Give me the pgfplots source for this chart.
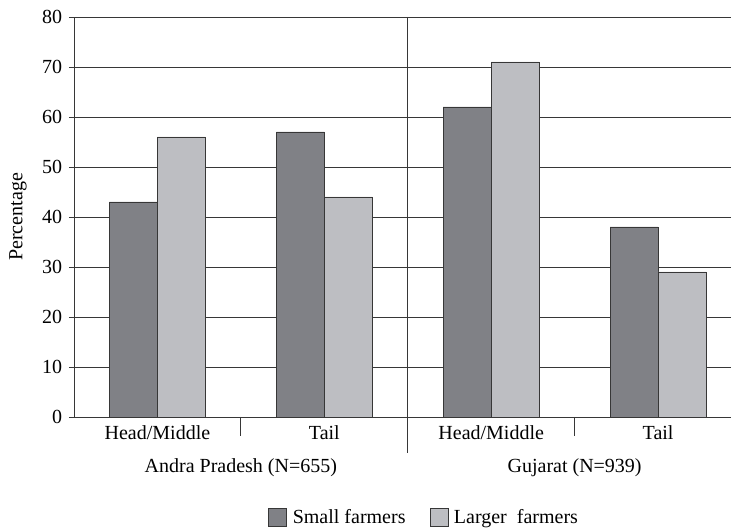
\documentclass[border=0pt]{standalone}
\usepackage{pgfplots}
\pgfplotsset{compat=1.18}
\usepackage{fontspec}
\setmainfont{Liberation Serif}
\definecolor{darkbar}{RGB}{128,129,134}
\definecolor{lightbar}{RGB}{189,190,194}
\definecolor{linec}{RGB}{55,55,55}
\pgfplotsset{mybox/.style={legend image code/.code={\draw[##1] (0pt,-9pt) rectangle (18pt,9pt); \path[draw=none,fill=none] (0pt,0pt) rectangle (22pt,1pt);}}}
\begin{document}
\fontsize{20}{23}\selectfont
\begin{tikzpicture}
\useasboundingbox (-74pt,-112pt) rectangle (657pt,417pt);
\begin{axis}[
  at={(0pt,0pt)}, anchor=south west,
  scale only axis, width=657pt, height=400pt,
  xmin=-0.5, xmax=3.437, ymin=0, ymax=80,
  ybar=0pt, bar width=48pt,
  axis x line*=bottom, axis y line*=left,
  axis line style={linec, line width=0.9pt, -},
  ytick={0,10,...,80}, ymajorgrids,
  grid style={linec, line width=0.8pt},
  ytick style={linec, line width=0.8pt},
  tick align=outside, major tick length=5pt,
  xtick={0,1,2,3}, xticklabels={Head/Middle,Tail,Head/Middle,Tail},
  xtick style={draw=none},
  xticklabel style={yshift=3pt},
  /pgf/number format/assume math mode=true,
  tick label style={font=\fontsize{20}{23}\selectfont},
  clip=false,
  legend style={at={(axis description cs:0.533,-0.252)}, anchor=center, draw=none,
    font=\fontsize{20}{23}\selectfont, legend columns=2,
    /tikz/every even column/.append style={column sep=22pt}},
]
\addplot[fill=darkbar, draw=linec, line width=0.8pt, mybox]
  coordinates {(0,43) (1,57) (2,62) (3,38)};
\addplot[fill=lightbar, draw=linec, line width=0.8pt, mybox]
  coordinates {(0,56) (1,44) (2,71) (3,29)};
\legend{Small farmers, Larger\ \ farmers}
\draw[linec, line width=0.8pt] (axis cs:1.5,80) -- (axis cs:1.5,0) -- ([yshift=-36pt]axis cs:1.5,0);
\draw[linec, line width=0.8pt] (axis cs:0.5,0) -- ([yshift=-19pt]axis cs:0.5,0);
\draw[linec, line width=0.8pt] (axis cs:2.5,0) -- ([yshift=-19pt]axis cs:2.5,0);
\node at ([yshift=-51pt]axis cs:0.5,0) {Andra Pradesh (N=655)};
\node at ([yshift=-51pt]axis cs:2.5,0) {Gujarat (N=939)};
\node[rotate=90] at ([xshift=-56pt]axis cs:-0.5,40) {Percentage};
\end{axis}
\end{tikzpicture}
\end{document}
